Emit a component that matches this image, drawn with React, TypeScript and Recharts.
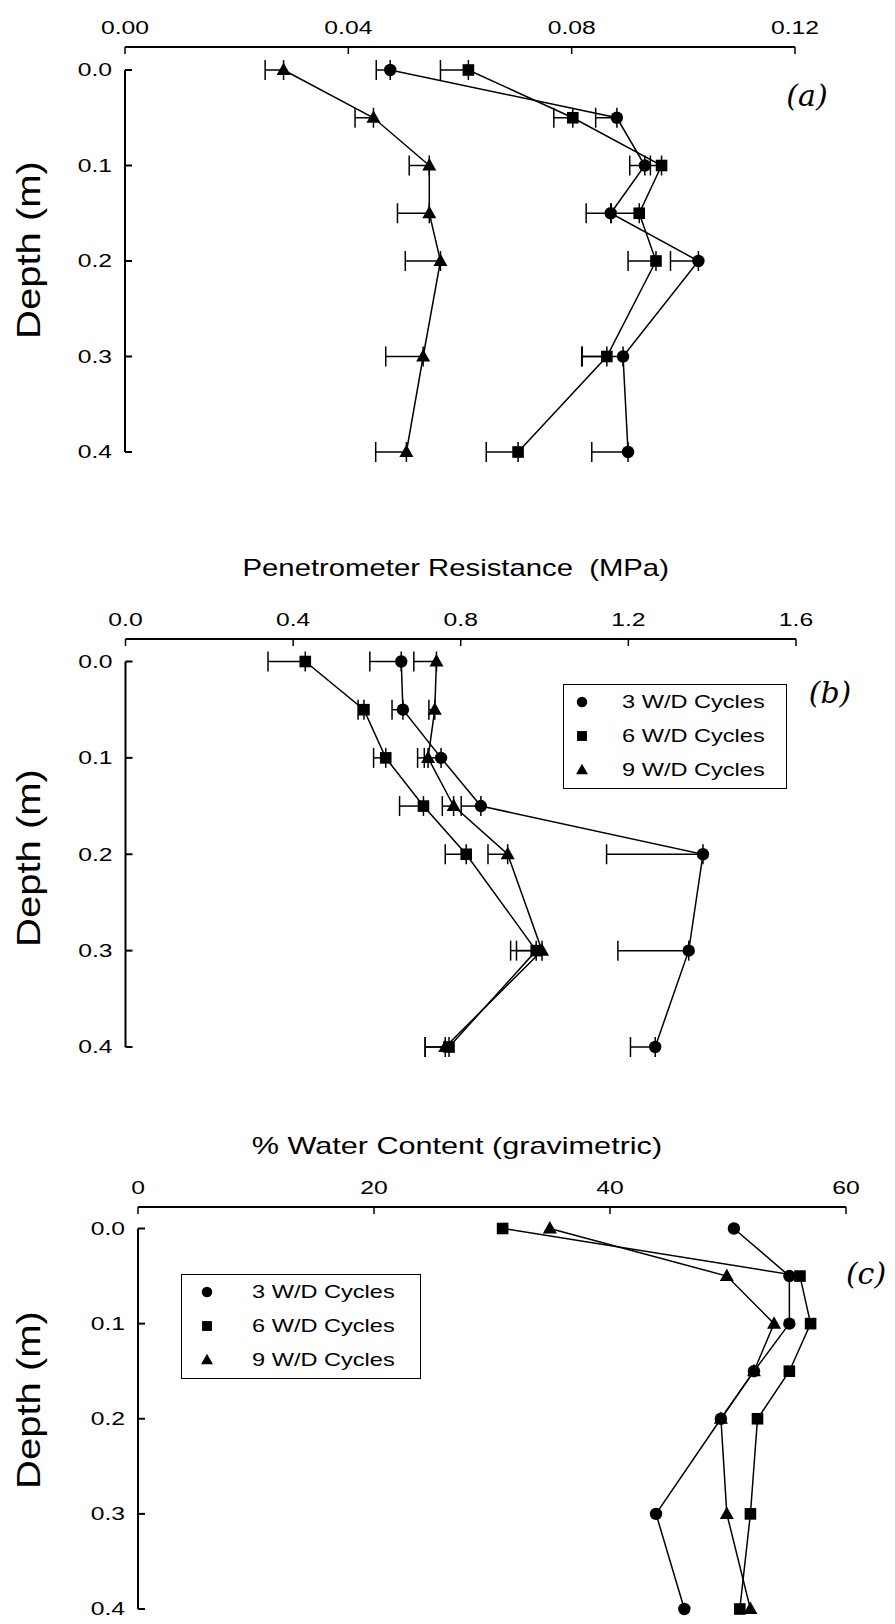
import React from 'react';
import { ScatterChart, Scatter, XAxis, YAxis, ErrorBar, ReferenceLine, Legend } from 'recharts';

const FONT = '"Liberation Sans", Arial, sans-serif';

const depths = [0, 0.05, 0.1, 0.15, 0.2, 0.3, 0.4];
const depthTicks = [0, 0.1, 0.2, 0.3, 0.4];
const seriesNames = ['3 W/D Cycles', '6 W/D Cycles', '9 W/D Cycles'];

// (a) top panel
const aTicks = [0, 0.04, 0.08, 0.12];
const a3 = [0.0475, 0.0881, 0.0931, 0.087, 0.1027, 0.0892, 0.0901];
const a3err = [0.0025, 0.0038, 0.0027, 0.0044, 0.005, 0.0073, 0.0065];
const a6 = [0.0615, 0.0802, 0.0961, 0.0921, 0.0951, 0.0863, 0.0704];
const a6err = [0.005, 0.0034, 0.002, 0.005, 0.005, 0.0045, 0.0057];
const a9 = [0.0284, 0.0445, 0.0545, 0.0545, 0.0565, 0.0534, 0.0504];
const a9err = [0.0033, 0.0033, 0.0036, 0.0057, 0.0063, 0.0067, 0.0055];

// (b) penetrometer resistance
const bTicks = [0, 0.4, 0.8, 1.2, 1.6];
const b3 = [0.658, 0.662, 0.753, 0.848, 1.378, 1.344, 1.264];
const b3err = [0.075, 0.026, 0.04, 0.047, 0.23, 0.169, 0.059];
const b6 = [0.429, 0.569, 0.621, 0.711, 0.813, 0.98, 0.772];
const b6err = [0.089, 0.014, 0.029, 0.057, 0.05, 0.061, 0.057];
const b9 = [0.742, 0.738, 0.722, 0.783, 0.912, 0.994, 0.763];
const b9err = [0.054, 0.014, 0.025, 0.027, 0.047, 0.061, 0.048];

// (c) water content
const cTicks = [0, 20, 40, 60];
const c3 = [50.5, 55.2, 55.2, 52.2, 49.4, 43.9, 46.3];
const c6 = [30.9, 56.1, 57.0, 55.2, 52.5, 51.9, 51.0];
const c9 = [34.9, 49.9, 53.9, 52.2, 49.4, 49.9, 51.9];

type Shape = 'circle' | 'square' | 'triangle';
const shapes: Shape[] = ['circle', 'square', 'triangle'];

const toRows = (vals: number[], errs?: number[]) =>
  depths.map((d, i) => ({ depth: d, x: vals[i], err: errs ? [errs[i], 0] : 0 }));

function Marker({ shape, cx, cy, s = 1 }: { shape: Shape; cx: number; cy: number; s?: number }) {
  if (shape === 'circle') return <circle cx={cx} cy={cy} r={6.2 * s} fill="#000" />;
  if (shape === 'square')
    return <rect x={cx - 5.8 * s} y={cy - 5.8 * s} width={11.6 * s} height={11.6 * s} fill="#000" />;
  const h = 12.5 * s;
  const w = 14 * s;
  return (
    <polygon
      points={`${cx},${cy - h * 0.6} ${cx - w / 2},${cy + h * 0.4} ${cx + w / 2},${cy + h * 0.4}`}
      fill="#000"
    />
  );
}

const makeXTick = (fmt: (v: number) => string) => (props: any) => {
  const { x, y, payload } = props;
  return (
    <g>
      <line x1={x} x2={x} y1={y + 13} y2={y + 20} stroke="#000" strokeWidth={1.5} />
      <text
        transform={`translate(${x},${y}) scale(1.3,1)`}
        textAnchor="middle"
        fontSize={19}
        fontFamily={FONT}
        fill="#000"
      >
        {fmt(payload.value)}
      </text>
    </g>
  );
};

const YTick = (props: any) => {
  const { x, y, payload } = props;
  return (
    <g>
      <line x1={x + 13} x2={x + 20} y1={y} y2={y} stroke="#000" strokeWidth={2} />
      <text
        transform={`translate(${x},${y}) scale(1.3,1)`}
        textAnchor="end"
        dominantBaseline="central"
        fontSize={19}
        fontFamily={FONT}
        fill="#000"
      >
        {payload.value.toFixed(1)}
      </text>
    </g>
  );
};

interface LegendBox {
  left: number;
  top: number;
  width: number;
  markerX: number;
  textX: number;
}

interface PanelProps {
  plotTop: number;
  plotLeft: number;
  plotRight: number;
  y0: number;
  y4: number;
  xMax: number;
  xTicks: number[];
  xFmt: (v: number) => string;
  values: number[][];
  errors?: number[][];
  legend?: LegendBox;
}

function Panel({ plotTop, plotLeft, plotRight, y0, y4, xMax, xTicks, xFmt, values, errors, legend }: PanelProps) {
  const chartTop = plotTop - 45;
  const height = y4 - chartTop + 14;
  const gap = ((y0 - plotTop) / (y4 - y0)) * 0.4;
  const legendContent = () =>
    legend ? (
      <div
        style={{
          position: 'relative',
          width: legend.width,
          height: 105,
          border: '1.5px solid #000',
          boxSizing: 'border-box',
          background: '#fff',
        }}
      >
        {seriesNames.map((name, i) => (
          <div key={name} style={{ position: 'absolute', left: 0, top: 17 + i * 34, width: '100%' }}>
            <svg width={20} height={20} style={{ position: 'absolute', left: legend.markerX - 10, top: -10 }}>
              <Marker shape={shapes[i]} cx={10} cy={10} s={0.85} />
            </svg>
            <span
              style={{
                position: 'absolute',
                left: legend.textX,
                top: -11,
                fontFamily: FONT,
                fontSize: 19,
                lineHeight: '22px',
                whiteSpace: 'nowrap',
                display: 'inline-block',
                transform: 'scaleX(1.24)',
                transformOrigin: 'left center',
              }}
            >
              {name}
            </span>
          </div>
        ))}
      </div>
    ) : null;

  return (
    <div style={{ position: 'absolute', left: 0, top: chartTop }}>
      <ScatterChart
        width={895}
        height={height}
        margin={{ top: 10, right: 895 - plotRight, bottom: 14, left: plotLeft - 60 }}
      >
        <XAxis
          type="number"
          dataKey="x"
          orientation="top"
          domain={[0, xMax]}
          ticks={xTicks}
          height={35}
          tickSize={0}
          tickMargin={13}
          tickLine={false}
          axisLine={{ stroke: '#000', strokeWidth: 2 }}
          tick={makeXTick(xFmt)}
          interval={0}
        />
        <YAxis
          type="number"
          dataKey="depth"
          domain={[-gap, 0.4]}
          reversed
          ticks={depthTicks}
          width={60}
          tickSize={0}
          tickMargin={13}
          tickLine={false}
          axisLine={false}
          tick={YTick}
          interval={0}
        />
        <ReferenceLine
          segment={[
            { x: 0, y: 0 },
            { x: 0, y: 0.4 },
          ]}
          stroke="#000"
          strokeWidth={2}
          ifOverflow="visible"
        />
        {values.map((vals, i) => (
          <Scatter
            key={seriesNames[i]}
            name={seriesNames[i]}
            data={toRows(vals, errors ? errors[i] : undefined)}
            line={{ stroke: '#000', strokeWidth: 1.5 }}
            lineJointType="linear"
            shape={(p: any) => <Marker shape={shapes[i]} cx={p.cx} cy={p.cy} />}
            isAnimationActive={false}
          >
            {errors ? (
              <ErrorBar dataKey="err" direction="x" width={10} stroke="#000" strokeWidth={1.5} />
            ) : null}
          </Scatter>
        ))}
        {legend ? (
          <Legend
            layout="horizontal"
            verticalAlign="middle"
            align="center"
            content={legendContent}
            wrapperStyle={{ left: legend.left, top: legend.top - chartTop, width: legend.width, height: 105 }}
          />
        ) : null}
      </ScatterChart>
    </div>
  );
}

const textStyle: React.CSSProperties = { position: 'absolute', fontFamily: FONT, color: '#000', whiteSpace: 'nowrap' };

function DepthLabel({ cy }: { cy: number }) {
  return (
    <div
      style={{
        ...textStyle,
        left: 28,
        top: cy,
        fontSize: 40,
        lineHeight: '44px',
        transform: 'translate(-50%,-50%) scale(0.85,1) rotate(-90deg)',
      }}
    >
      Depth (m)
    </div>
  );
}

function Title({ cx, cy, text, sx }: { cx: number; cy: number; text: string; sx: number }) {
  return (
    <div style={{ ...textStyle, left: cx - 300, width: 600, top: cy - 14, textAlign: 'center', fontSize: 24, lineHeight: '28px' }}>
      <span style={{ display: 'inline-block', transform: `scaleX(${sx})`, whiteSpace: 'pre' }}>{text}</span>
    </div>
  );
}

function Tag({ cx, cy, text }: { cx: number; cy: number; text: string }) {
  return (
    <div
      style={{
        ...textStyle,
        left: cx,
        top: cy,
        fontFamily: '"DejaVu Serif", serif',
        fontStyle: 'italic',
        fontSize: 30,
        transform: 'translate(-50%,-50%)',
      }}
    >
      {text}
    </div>
  );
}

export default function App() {
  return (
    <div style={{ position: 'absolute', left: 0, top: 0, width: 895, height: 1624, background: '#fff', overflow: 'hidden' }}>
      <Panel
        plotTop={47}
        plotLeft={125}
        plotRight={795}
        y0={70}
        y4={452}
        xMax={0.12}
        xTicks={aTicks}
        xFmt={(v) => v.toFixed(2)}
        values={[a3, a6, a9]}
        errors={[a3err, a6err, a9err]}
      />
      <DepthLabel cy={250} />
      <Tag cx={807} cy={95} text="(a)" />

      <Title cx={456} cy={568} sx={1.22} text="Penetrometer Resistance  (MPa)" />
      <Panel
        plotTop={639}
        plotLeft={125.5}
        plotRight={796}
        y0={661.5}
        y4={1047}
        xMax={1.6}
        xTicks={bTicks}
        xFmt={(v) => v.toFixed(1)}
        values={[b3, b6, b9]}
        errors={[b3err, b6err, b9err]}
        legend={{ left: 563, top: 684, width: 224, markerX: 18, textX: 58 }}
      />
      <DepthLabel cy={858} />
      <Tag cx={830} cy={692} text="(b)" />

      <Title cx={457} cy={1146} sx={1.275} text="% Water Content (gravimetric)" />
      <Panel
        plotTop={1207}
        plotLeft={138}
        plotRight={846}
        y0={1228.5}
        y4={1609}
        xMax={60}
        xTicks={cTicks}
        xFmt={(v) => String(v)}
        values={[c3, c6, c9]}
        legend={{ left: 181, top: 1274, width: 240, markerX: 25, textX: 70 }}
      />
      <DepthLabel cy={1400} />
      <Tag cx={866} cy={1273} text="(c)" />
    </div>
  );
}
